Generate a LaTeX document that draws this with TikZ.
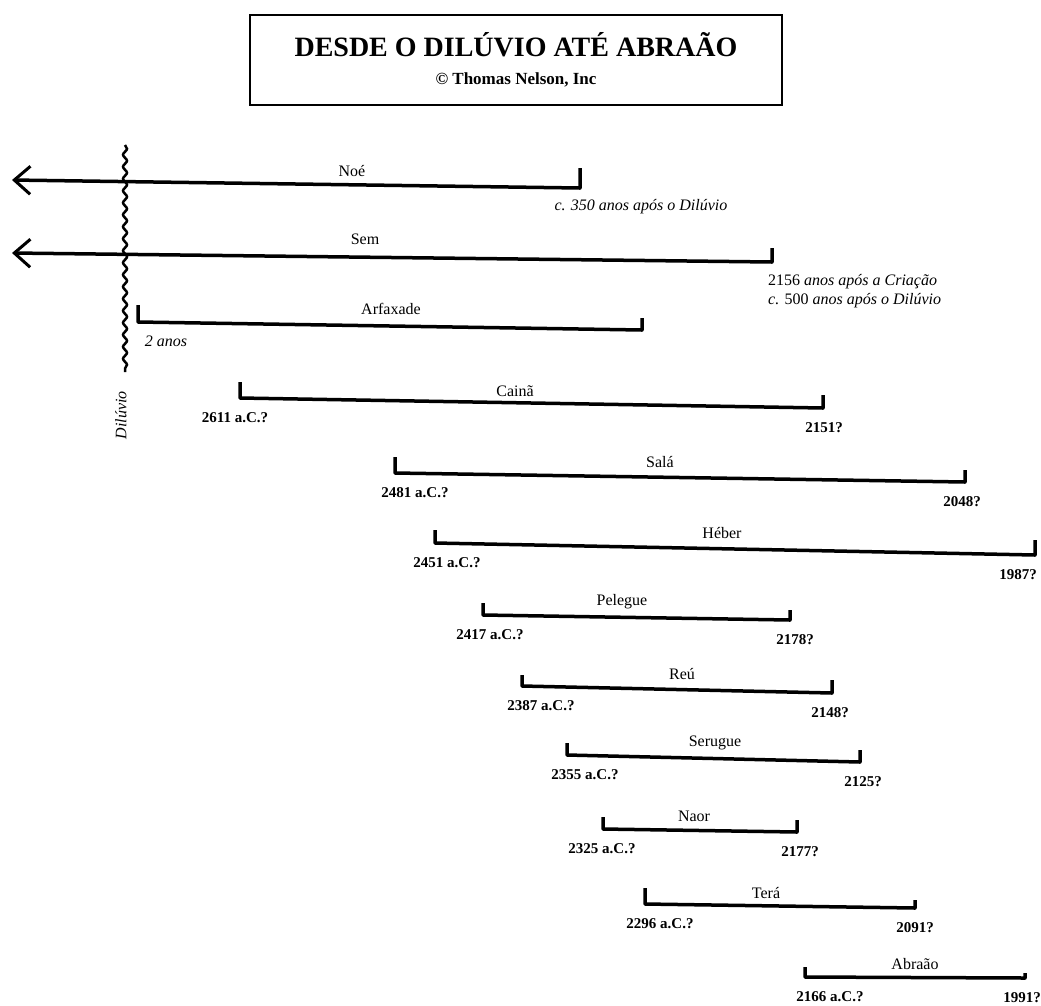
\documentclass[tikz,border=0pt]{standalone}
\usepackage{fontspec}
\setmainfont{Liberation Serif}
\usetikzlibrary{arrows.meta,decorations.pathmorphing}

\begin{document}
\begin{tikzpicture}[
    x=1pt, y=-1pt,
    bar/.style={line width=3.5pt, line join=round},
    barb/.style={{Straight Barb[length=16pt,width=28pt,line width=3pt]}-},
    who/.style={font=\fontsize{16}{19}\selectfont},
    date/.style={font=\bfseries\fontsize{15}{18}\selectfont},
    note/.style={font=\itshape\fontsize{16}{19}\selectfont},
    titlebox/.style={draw, line width=2.5pt, minimum width=532pt, minimum height=90pt, align=center,
        font=\bfseries\fontsize{28}{28}\selectfont}
]
\useasboundingbox (0,0) rectangle (1041,1005);

% Title
\node[titlebox] (title) at (516,60) {DESDE O DILÚVIO ATÉ ABRAÃO\\
    {\fontsize{17}{19}\selectfont © Thomas Nelson, Inc}};

% Flood
\coordinate (flood-top) at (125,145);
\coordinate (flood-bot) at (125,372);
\draw[line width=2.5pt, decorate, decoration={snake, segment length=12pt, amplitude=2pt}] (flood-top) -- (flood-bot);
\node[note, rotate=90] (flood) at (121,415) {Dilúvio};

% Noah
\coordinate (noe-tip) at (12,180);
\coordinate (noe-r) at (580,188);
\coordinate (noe-rt) at (580,168);
\draw[bar, barb] (noe-tip) -- (noe-r) -- (noe-rt);
\node[who] (noe) at (352,171) {Noé};
\node[note] (noe-note) at (641,207) {c. 350 anos após o Dilúvio};

% Shem
\coordinate (sem-tip) at (12,253);
\coordinate (sem-r) at (772,262);
\coordinate (sem-rt) at (772,248);
\draw[bar, barb] (sem-tip) -- (sem-r) -- (sem-rt);
\node[who] (sem) at (365,239) {Sem};
\node[note, anchor=north west, align=left, inner sep=0pt] (sem-note) at (768,274)
    {{\upshape 2156} anos após a Criação\\ c. {\upshape 500} anos após o Dilúvio};

% Arphaxad
\coordinate (arf-lt) at (138,305);
\coordinate (arf-l) at (138,322);
\coordinate (arf-r) at (642,330);
\coordinate (arf-rt) at (642,318);
\draw[bar] (arf-lt) -- (arf-l) -- (arf-r) -- (arf-rt);
\node[who] (arf) at (391,309) {Arfaxade};
\node[note] (arf-born) at (166,341) {2 anos};

% Generations after
\foreach \n/\who/\xa/\ya/\ta/\xb/\yb/\tb/\wx/\wy/\born/\bx/\died/\dx in {
    caina/Cainã/240/398/382/823/408/395/515/391/2611 a.C.?/235/2151?/824,
    sala/Salá/395/473/457/965/482/470/660/462/2481 a.C.?/415/2048?/962,
    heber/Héber/435/543/530/1035/555/540/722/533/2451 a.C.?/447/1987?/1018,
    pelegue/Pelegue/483/615/603/790/620/610/622/602/2417 a.C.?/490/2178?/795,
    reu/Reú/522/686/675/832/693/680/682/674/2387 a.C.?/541/2148?/830,
    serugue/Serugue/567/755/743/860/762/750/715/743/2355 a.C.?/585/2125?/863,
    naor/Naor/603/829/817/797/832/820/694/816/2325 a.C.?/602/2177?/800,
    tera/Terá/645/904/888/915/908/900/766/893/2296 a.C.?/660/2091?/915,
    abraao/Abraão/805/977/967/1025/978/973/915/964/2166 a.C.?/830/1991?/1022}{
    \coordinate (\n-lt) at (\xa,\ta);
    \coordinate (\n-l) at (\xa,\ya);
    \coordinate (\n-r) at (\xb,\yb);
    \coordinate (\n-rt) at (\xb,\tb);
    \draw[bar] (\n-lt) -- (\n-l) -- (\n-r) -- (\n-rt);
    \node[who] (\n) at (\wx,\wy) {\who};
    \node[date] (\n-born) at (\bx,\ya+20) {\born};
    \node[date] (\n-died) at (\dx,\yb+20) {\died};
}
\end{tikzpicture}
\end{document}
